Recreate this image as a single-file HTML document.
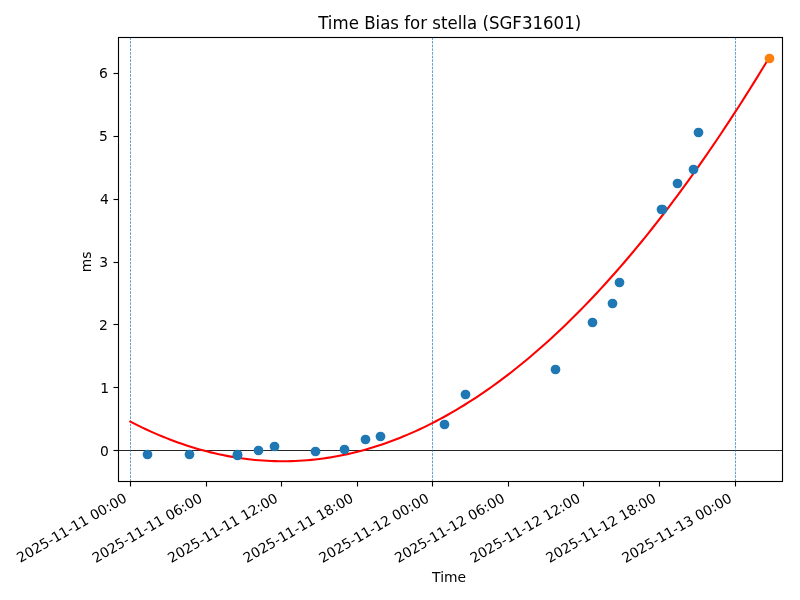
<!DOCTYPE html>
<html lang="en"><head><meta charset="utf-8"><title>Time Bias for stella (SGF31601)</title>
<style>html,body{margin:0;padding:0;background:#fff;overflow:hidden}svg{display:block}text{font-family:'DejaVu Sans','Liberation Sans',sans-serif;fill:#000}</style></head><body>
<svg width="800" height="600" viewBox="0 0 800 600">
<rect width="800" height="600" fill="#fff"/>
<line x1="118.50" y1="450.5" x2="782.50" y2="450.5" stroke="#000" stroke-width="0.850"/>
<line x1="130.5" y1="481.50" x2="130.5" y2="37.50" stroke="#1f77b4" stroke-width="0.694" stroke-dasharray="2.569 1.111"/>
<line x1="432.5" y1="481.50" x2="432.5" y2="37.50" stroke="#1f77b4" stroke-width="0.694" stroke-dasharray="2.569 1.111"/>
<line x1="735.5" y1="481.50" x2="735.5" y2="37.50" stroke="#1f77b4" stroke-width="0.694" stroke-dasharray="2.569 1.111"/>
<path d="M130.30 421.56 L134.32 423.62 L138.34 425.63 L142.36 427.59 L146.38 429.48 L150.40 431.33 L154.42 433.12 L158.44 434.85 L162.46 436.53 L166.48 438.15 L170.50 439.72 L174.52 441.24 L178.54 442.69 L182.56 444.10 L186.58 445.45 L190.60 446.74 L194.62 447.98 L198.64 449.16 L202.66 450.29 L206.68 451.36 L210.70 452.37 L214.72 453.34 L218.74 454.24 L222.76 455.09 L226.78 455.89 L230.80 456.63 L234.82 457.32 L238.84 457.95 L242.86 458.52 L246.88 459.05 L250.90 459.51 L254.92 459.92 L258.94 460.28 L262.96 460.58 L266.98 460.82 L271.00 461.01 L275.02 461.14 L279.04 461.22 L283.06 461.25 L287.08 461.22 L291.11 461.13 L295.13 460.99 L299.15 460.79 L303.17 460.54 L307.19 460.23 L311.21 459.87 L315.23 459.46 L319.25 458.98 L323.27 458.46 L327.29 457.87 L331.31 457.24 L335.33 456.54 L339.35 455.80 L343.37 454.99 L347.39 454.13 L351.41 453.22 L355.43 452.25 L359.45 451.23 L363.47 450.15 L367.49 449.02 L371.51 447.83 L375.53 446.58 L379.55 445.28 L383.57 443.93 L387.59 442.52 L391.61 441.05 L395.63 439.53 L399.65 437.96 L403.67 436.33 L407.69 434.64 L411.71 432.90 L415.73 431.10 L419.75 429.25 L423.77 427.35 L427.79 425.39 L431.81 423.37 L435.83 421.30 L439.85 419.17 L443.87 416.99 L447.89 414.75 L451.91 412.46 L455.93 410.11 L459.95 407.71 L463.97 405.25 L467.99 402.74 L472.01 400.17 L476.03 397.55 L480.05 394.87 L484.07 392.13 L488.09 389.35 L492.11 386.50 L496.13 383.60 L500.15 380.65 L504.17 377.64 L508.19 374.58 L512.21 371.46 L516.23 368.28 L520.25 365.05 L524.27 361.77 L528.29 358.43 L532.31 355.03 L536.33 351.58 L540.35 348.07 L544.37 344.51 L548.39 340.90 L552.41 337.23 L556.43 333.50 L560.45 329.72 L564.47 325.88 L568.49 321.99 L572.51 318.04 L576.53 314.04 L580.55 309.98 L584.57 305.87 L588.59 301.70 L592.61 297.48 L596.63 293.20 L600.65 288.87 L604.67 284.48 L608.69 280.04 L612.72 275.54 L616.74 270.99 L620.76 266.38 L624.78 261.71 L628.80 256.99 L632.82 252.22 L636.84 247.39 L640.86 242.51 L644.88 237.57 L648.90 232.57 L652.92 227.52 L656.94 222.42 L660.96 217.25 L664.98 212.04 L669.00 206.77 L673.02 201.44 L677.04 196.06 L681.06 190.63 L685.08 185.13 L689.10 179.59 L693.12 173.99 L697.14 168.33 L701.16 162.62 L705.18 156.85 L709.20 151.03 L713.22 145.15 L717.24 139.22 L721.26 133.23 L725.28 127.19 L729.30 121.09 L733.32 114.94 L737.34 108.73 L741.36 102.47 L745.38 96.15 L749.40 89.77 L753.42 83.34 L757.44 76.86 L761.46 70.32 L765.48 63.73 L769.50 57.08" fill="none" stroke="#ff0000" stroke-width="2.083" stroke-linejoin="round" stroke-linecap="square"/>
<g fill="#1f77b4">
<circle cx="147.5" cy="454.5" r="4.861"/>
<circle cx="189.5" cy="454.5" r="4.861"/>
<circle cx="237.5" cy="454.5" r="4.861"/>
<circle cx="237.5" cy="455.5" r="4.861"/>
<circle cx="258.5" cy="450.5" r="4.861"/>
<circle cx="274.5" cy="446.5" r="4.861"/>
<circle cx="315.5" cy="451.5" r="4.861"/>
<circle cx="344.5" cy="449.5" r="4.861"/>
<circle cx="365.5" cy="439.5" r="4.861"/>
<circle cx="380.5" cy="436.5" r="4.861"/>
<circle cx="444.5" cy="424.5" r="4.861"/>
<circle cx="465.5" cy="394.5" r="4.861"/>
<circle cx="555.5" cy="369.5" r="4.861"/>
<circle cx="592.5" cy="322.5" r="4.861"/>
<circle cx="612.5" cy="303.5" r="4.861"/>
<circle cx="619.5" cy="282.5" r="4.861"/>
<circle cx="661.5" cy="209.5" r="4.861"/>
<circle cx="677.5" cy="183.5" r="4.861"/>
<circle cx="693.5" cy="169.5" r="4.861"/>
<circle cx="698.5" cy="132.5" r="4.861"/>
<circle cx="662.5" cy="209.5" r="4.861"/>
</g>
<circle cx="769.5" cy="58.5" r="4.861" fill="#ff7f0e"/>
<rect x="118.5" y="37.5" width="664.0" height="444.0" fill="none" stroke="#000" stroke-width="1.111" stroke-linejoin="miter"/>
<g fill="#000">
<rect x="129.944" y="481.5" width="1.111" height="5"/>
<rect x="205.944" y="481.5" width="1.111" height="5"/>
<rect x="280.944" y="481.5" width="1.111" height="5"/>
<rect x="356.944" y="481.5" width="1.111" height="5"/>
<rect x="431.944" y="481.5" width="1.111" height="5"/>
<rect x="507.944" y="481.5" width="1.111" height="5"/>
<rect x="582.944" y="481.5" width="1.111" height="5"/>
<rect x="658.944" y="481.5" width="1.111" height="5"/>
<rect x="734.944" y="481.5" width="1.111" height="5"/>
<rect x="113.5" y="449.944" width="5" height="1.111"/>
<rect x="113.5" y="386.944" width="5" height="1.111"/>
<rect x="113.5" y="323.944" width="5" height="1.111"/>
<rect x="113.5" y="261.944" width="5" height="1.111"/>
<rect x="113.5" y="198.944" width="5" height="1.111"/>
<rect x="113.5" y="135.944" width="5" height="1.111"/>
<rect x="113.5" y="72.944" width="5" height="1.111"/>
</g>
<g font-size="13.889">
<text transform="translate(74.09 532.03) rotate(-30) scale(0.994 1)" text-anchor="middle">2025-11-11 00:00</text>
<text transform="translate(149.49 532.11) rotate(-30) scale(0.994 1)" text-anchor="middle">2025-11-11 06:00</text>
<text transform="translate(225.07 532.10) rotate(-30) scale(0.994 1)" text-anchor="middle">2025-11-11 12:00</text>
<text transform="translate(300.55 532.09) rotate(-30) scale(0.994 1)" text-anchor="middle">2025-11-11 18:00</text>
<text transform="translate(376.23 532.19) rotate(-30) scale(0.994 1)" text-anchor="middle">2025-11-12 00:00</text>
<text transform="translate(451.99 532.16) rotate(-30) scale(0.994 1)" text-anchor="middle">2025-11-12 06:00</text>
<text transform="translate(527.44 532.12) rotate(-30) scale(0.994 1)" text-anchor="middle">2025-11-12 12:00</text>
<text transform="translate(603.25 532.15) rotate(-30) scale(0.994 1)" text-anchor="middle">2025-11-12 18:00</text>
<text transform="translate(679.17 532.26) rotate(-30) scale(0.994 1)" text-anchor="middle">2025-11-13 00:00</text>
<text transform="translate(108.87 455.78) scale(1 1)" text-anchor="end">0</text>
<text transform="translate(108.97 392.78) scale(1 1)" text-anchor="end">1</text>
<text transform="translate(107.92 329.78) scale(1 1)" text-anchor="end">2</text>
<text transform="translate(107.96 266.78) scale(1 1)" text-anchor="end">3</text>
<text transform="translate(108.92 203.78) scale(1 1)" text-anchor="end">4</text>
<text transform="translate(107.93 140.78) scale(1 1)" text-anchor="end">5</text>
<text transform="translate(107.94 77.78) scale(1 1)" text-anchor="end">6</text>
<text transform="translate(449.07 582.40) scale(1 1)" text-anchor="middle">Time</text>
<text transform="translate(90.84 272.15) rotate(-90) scale(1 1)">ms</text>
</g>
<text transform="translate(449.70 29.33) scale(0.997 1.08)" text-anchor="middle" font-size="16.667">Time Bias for stella (SGF31601)</text>
</svg></body></html>
